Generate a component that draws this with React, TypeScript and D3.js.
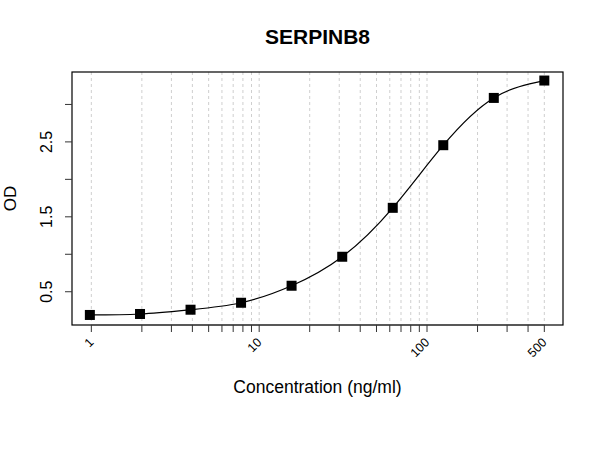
import React from "react";
import * as d3 from "d3";

const title = "SERPINB8";
const xTitle = "Concentration (ng/ml)";
const yTitle = "OD";

const concentrations = [0.98, 1.95, 3.9, 7.8, 15.6, 31.25, 62.5, 125, 250, 500];
const odValues = [0.19, 0.203, 0.26, 0.353, 0.58, 0.967, 1.62, 2.456, 3.087, 3.319];

const xGridValues = [1, 2, 3, 4, 5, 6, 7, 8, 9, 10, 20, 30, 40, 50, 60, 70, 80, 90, 100, 200, 300, 400, 500];
const xTickLabels = [1, 10, 100, 500];
const yTickValues = [0.5, 1, 1.5, 2, 2.5, 3];
const yTickLabels = [0.5, 1.5, 2.5];

const W = 600;
const H = 450;
const left = 72;
const right = 563;
const top = 72;
const bottom = 325;
const font = "'Liberation Sans', Arial, Helvetica, sans-serif";

export default function App() {
  const x = d3.scaleLog().domain([0.767, 646]).range([left, right]);
  const y = d3.scaleLinear().domain([0.056, 3.433]).range([bottom, top]);

  const pts: [number, number][] = concentrations.map((c, i) => [x(c), y(odValues[i])]);
  const line = d3
    .line<[number, number]>()
    .x((d) => d[0])
    .y((d) => d[1])
    .curve(d3.curveNatural);

  const sq = 10;

  return (
    <svg
      width={W}
      height={H}
      viewBox={`0 0 ${W} ${H}`}
      style={{ position: "absolute", left: 0, top: 0, background: "#fff" }}
      fontFamily={font}
    >
      <rect x={0} y={0} width={W} height={H} fill="#fff" />
      {xGridValues.map((v) => (
        <line
          key={"g" + v}
          x1={x(v)}
          x2={x(v)}
          y1={top}
          y2={bottom}
          stroke="#cfcfcf"
          strokeWidth={1}
          strokeDasharray="3,3"
        />
      ))}
      <path d={line(pts) || ""} fill="none" stroke="#000" strokeWidth={1.2} />
      {pts.map((p, i) => (
        <rect key={"p" + i} x={p[0] - sq / 2} y={p[1] - sq / 2} width={sq} height={sq} fill="#000" />
      ))}
      <rect x={left} y={top} width={right - left} height={bottom - top} fill="none" stroke="#000" strokeWidth={1.2} />
      <line x1={x(1)} x2={x(500)} y1={bottom} y2={bottom} stroke="#555" strokeWidth={1.5} />
      {xGridValues.map((v) => (
        <line key={"xt" + v} x1={x(v)} x2={x(v)} y1={bottom} y2={bottom + 7} stroke="#333" strokeWidth={1} />
      ))}
      {xTickLabels.map((v) => (
        <text
          key={"xl" + v}
          transform={`translate(${x(v)},${340}) rotate(-45)`}
          textAnchor="end"
          dy="0.36em"
          fontSize={12.5}
          fill="#000"
        >
          {v}
        </text>
      ))}
      {yTickValues.map((v) => (
        <line key={"yt" + v} x1={left - 7} x2={left} y1={y(v)} y2={y(v)} stroke="#333" strokeWidth={1} />
      ))}
      {yTickLabels.map((v) => (
        <text
          key={"yl" + v}
          transform={`translate(${51.5},${y(v)}) rotate(-90)`}
          textAnchor="middle"
          fontSize={16}
          fill="#000"
        >
          {v.toFixed(1)}
        </text>
      ))}
      <text x={(left + right) / 2} y={44} textAnchor="middle" fontSize={21} fontWeight="bold" fill="#000">
        {title}
      </text>
      <text x={(left + right) / 2} y={393} textAnchor="middle" fontSize={17.5} fill="#000">
        {xTitle}
      </text>
      <text
        transform={`translate(${16},${(top + bottom) / 2}) rotate(-90)`}
        textAnchor="middle"
        fontSize={17}
        fill="#000"
      >
        {yTitle}
      </text>
    </svg>
  );
}
